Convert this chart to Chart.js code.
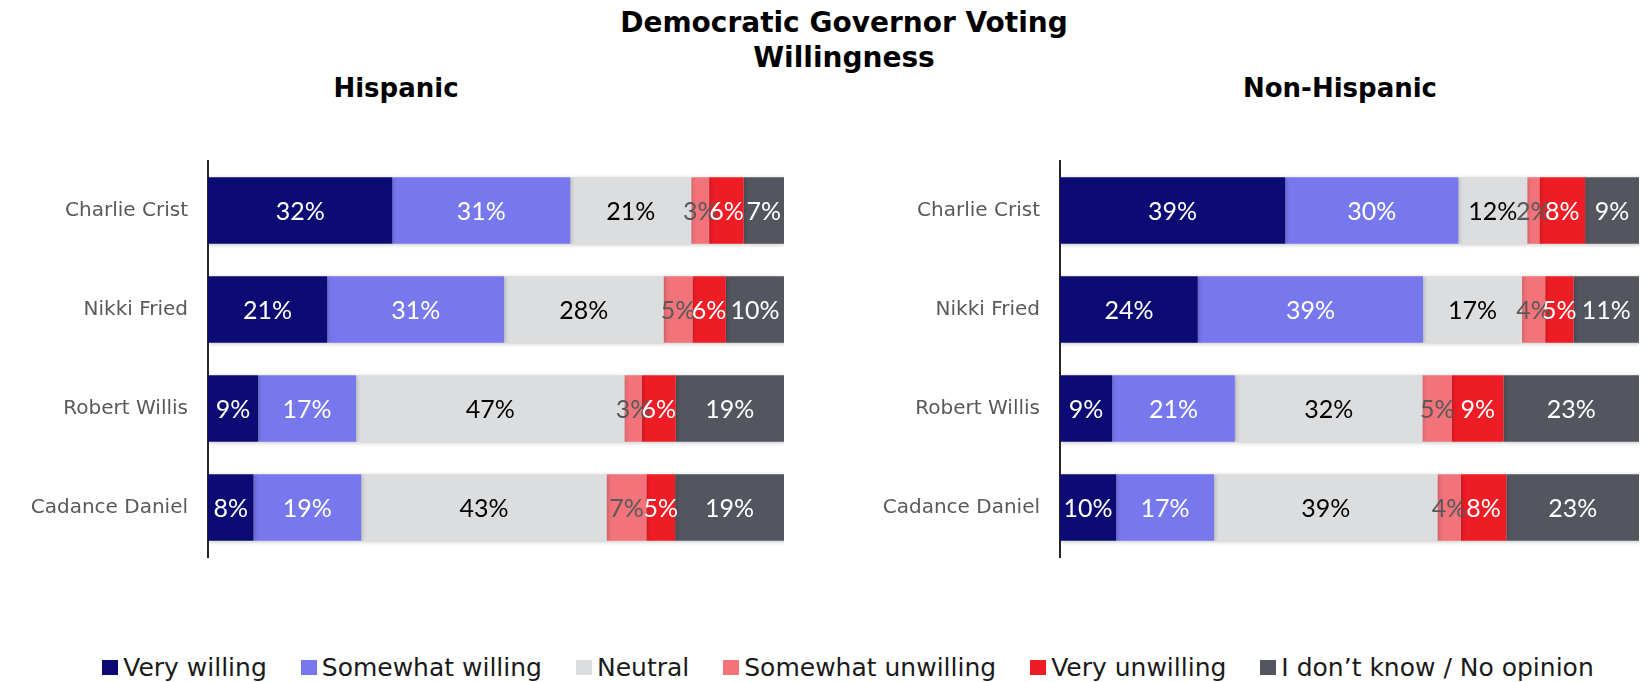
<!DOCTYPE html>
<html><head><meta charset="utf-8">
<script src="https://cdn.jsdelivr.net/npm/chart.js@4"></script>
<style>
body{margin:0;width:1644px;height:682px;background:#fff;position:relative;overflow:hidden;font-family:"DejaVu Sans",sans-serif;}
.t{position:absolute;font-family:"DejaVu Sans",sans-serif;font-weight:bold;color:#000;font-size:26px;line-height:35px;text-align:center;white-space:nowrap;}
canvas{position:absolute;}
#legend{position:absolute;left:26px;width:1644px;top:650px;height:34px;display:flex;justify-content:center;align-items:center;font-size:25px;color:#1a1a1a;white-space:nowrap;}
.li{display:flex;align-items:center;margin:0 17px;}
.sw{width:16px;height:15px;margin-right:5px;}
</style></head>
<body>
<div class="t" style="left:494px;width:700px;top:5px;font-size:28px;line-height:35px;">Democratic Governor Voting<br>Willingness</div>
<div class="t" style="left:196px;width:400px;top:71px;">Hispanic</div>
<div class="t" style="left:1140px;width:400px;top:71px;">Non-Hispanic</div>
<canvas id="c1" width="790" height="460" style="left:0;top:129px;"></canvas>
<canvas id="c2" width="784" height="460" style="left:860px;top:129px;"></canvas>
<div id="legend"></div>
<script>
const categories = ['Charlie Crist','Nikki Fried','Robert Willis','Cadance Daniel'];
const seriesNames = ['Very willing','Somewhat willing','Neutral','Somewhat unwilling','Very unwilling','I don\u2019t know / No opinion'];
const seriesColors = ['#0C0B74','#7878EE','#DCDDDF','#F2737A','#EE1C25','#53565E'];
const labelColors = ['#FFFFFF','#FFFFFF','#000000','#595959','#FFFFFF','#FFFFFF'];

// Hispanic
const hispVeryWilling       = [32.0, 20.7,  8.7,  7.9];
const hispSomewhatWilling   = [30.9, 30.7, 17.0, 18.7];
const hispNeutral           = [21.0, 27.7, 46.6, 42.6];
const hispSomewhatUnwilling = [ 3.1,  5.0,  3.0,  6.9];
const hispVeryUnwilling     = [ 6.0,  5.8,  5.9,  5.0];
const hispDontKnow          = [ 7.0, 10.1, 18.8, 18.9];

// Non-Hispanic
const nonVeryWilling        = [38.9, 23.8,  9.0,  9.7];
const nonSomewhatWilling    = [29.9, 38.9, 21.2, 16.9];
const nonNeutral            = [11.9, 17.1, 32.4, 38.6];
const nonSomewhatUnwilling  = [ 2.1,  4.0,  5.1,  4.0];
const nonVeryUnwilling      = [ 7.9,  4.9,  8.9,  7.9];
const nonDontKnow           = [ 9.3, 11.3, 23.4, 22.9];

const hispSeries = [hispVeryWilling,hispSomewhatWilling,hispNeutral,hispSomewhatUnwilling,hispVeryUnwilling,hispDontKnow];
const nonSeries = [nonVeryWilling,nonSomewhatWilling,nonNeutral,nonSomewhatUnwilling,nonVeryUnwilling,nonDontKnow];

const LABEL_FONT = 'Lato, "Open Sans", sans-serif';
const CAT_FONT = '"DejaVu Sans", sans-serif';

const shadowPlugin = {
  id:'shadowP',
  beforeDatasetsDraw(chart){const c=chart.ctx;c.save();c.shadowColor='rgba(0,0,0,0.22)';c.shadowBlur=4;c.shadowOffsetX=1;c.shadowOffsetY=1;},
  afterDatasetsDraw(chart){chart.ctx.restore();}
};
const labelPlugin = {
  id:'labelsP',
  afterDatasetsDraw(chart){
    const ctx=chart.ctx;
    ctx.save();
    ctx.font='25px '+LABEL_FONT;
    ctx.textAlign='center';ctx.textBaseline='middle';
    chart.data.datasets.forEach((ds,i)=>{
      const meta=chart.getDatasetMeta(i);
      meta.data.forEach((el,j)=>{
        const v=ds.data[j];
        const cx=(el.x+el.base)/2;
        ctx.fillStyle=labelColors[i];
        ctx.fillText(Math.round(v)+'%',cx,el.y+1);
      });
    });
    ctx.restore();
  }
};

function makeChart(id, series, yWidth, padRight){
  return new Chart(document.getElementById(id),{
    type:'bar',
    data:{labels:categories,datasets:series.map((d,i)=>({label:seriesNames[i],data:d,backgroundColor:seriesColors[i],borderWidth:0,barPercentage:0.67,categoryPercentage:1}))},
    options:{
      indexAxis:'y',responsive:false,animation:false,devicePixelRatio:1,
      layout:{padding:{top:9,bottom:12,left:0,right:padRight}},
      plugins:{legend:{display:false},title:{display:false},tooltip:{enabled:false}},
      scales:{
        x:{stacked:true,min:0,max:100,display:false},
        y:{stacked:true,grid:{display:false,drawTicks:false},border:{display:true,color:'#262626',width:2},
           ticks:{color:'#595959',font:{size:20,family:CAT_FONT},padding:20},
           afterFit:(s)=>{s.width=yWidth;}}
      }
    },
    plugins:[shadowPlugin,labelPlugin]
  });
}
makeChart('c1',hispSeries,208,6);
makeChart('c2',nonSeries,200,5);

const lg=document.getElementById('legend');
seriesNames.forEach((n,i)=>{
  const it=document.createElement('div');it.className='li';
  const sw=document.createElement('div');sw.className='sw';sw.style.background=seriesColors[i];
  const tx=document.createElement('span');tx.textContent=n;
  it.appendChild(sw);it.appendChild(tx);lg.appendChild(it);
});
</script>
</body></html>
